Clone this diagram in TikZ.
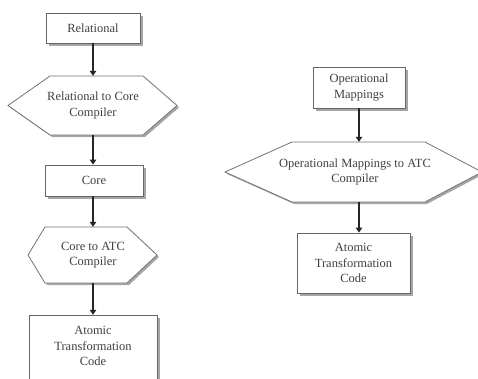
\documentclass[tikz,border=0pt]{standalone}
\usepackage{fontspec}
\setmainfont{Liberation Serif}
\usetikzlibrary{arrows.meta,shadows}
\newcommand\hexdraw[6]{%
  \pgfmathsetmacro\hexmid{(#5+#6)/2}%
  \begin{scope}[shift={(2,2)}]
    \fill[hexshadow] (#1,\hexmid) -- (#2,#5) -- (#3,#5) -- (#4,\hexmid) -- (#3,#6) -- (#2,#6) -- cycle;
  \end{scope}
  \draw[hexline] (#1,\hexmid) -- (#2,#5) -- (#3,#5) -- (#4,\hexmid) -- (#3,#6) -- (#2,#6) -- cycle;}
\begin{document}
\begin{tikzpicture}[x=1pt,y=-1pt,
  every node/.style={font=\fontsize{12.5}{15.5}\selectfont, text=black!75, align=center},
  boxn/.style={draw=black!60, line width=0.8pt, fill=white, inner sep=0pt,
    drop shadow={shadow xshift=2.5pt, shadow yshift=-2.5pt, fill=black!35, opacity=1}},
  hexn/.style={inner sep=0pt},
  hexline/.style={draw=black!55, line width=0.8pt, fill=white},
  hexshadow/.style={fill=black!35},
  arr/.style={draw=black!85, line width=1.7pt, -{Triangle[length=5pt,width=6.5pt]}}]
\clip (0,0) rectangle (478,378);
\fill[white] (0,0) rectangle (478,378);

% left column
\node[boxn, minimum width=94pt, minimum height=30pt] (rel) at (93,28) {Relational};
\hexdraw{8}{50}{143}{177}{76}{135}
\node[hexn, minimum width=169pt, minimum height=59pt] (h1) at (93,105.5) {Relational to Core\\Compiler};
\node[boxn, minimum width=98pt, minimum height=31pt] (core) at (94,180.5) {Core};
\hexdraw{28}{45}{127}{157}{227}{283}
\node[hexn, minimum width=129pt, minimum height=56pt] (h2) at (93,255) {Core to ATC\\Compiler};
\fill[black!35] (31.5,317.5) rectangle (159.5,400);
\draw[draw=black!60, line width=0.8pt, fill=white] (29,315) rectangle (157,400);
\node[hexn, minimum width=128pt, minimum height=62pt] (atc1) at (93,346) {Atomic\\Transformation\\Code};

% right column
\node[boxn, minimum width=92pt, minimum height=41pt] (om) at (359,87.5) {Operational\\Mappings};
\hexdraw{225}{292}{425}{482}{142}{202}
\node[hexn, minimum width=250pt, minimum height=60pt] (h3) at (355,172) {Operational Mappings to ATC\\Compiler};
\node[boxn, minimum width=113pt, minimum height=60pt] (atc2) at (353.5,263) {Atomic\\Transformation\\Code};

% connectors
\draw[arr] (rel.south) -- (rel.south |- h1.north);
\draw[arr] (h1.south) -- (h1.south |- core.north);
\draw[arr] (h2.north |- core.south) -- (h2.north);
\draw[arr] (h2.south) -- (h2.south |- atc1.north);
\draw[arr] (om.south) -- (om.south |- h3.north);
\draw[arr] (om.south |- h3.south) -- (om.south |- atc2.north);
\end{tikzpicture}
\end{document}
